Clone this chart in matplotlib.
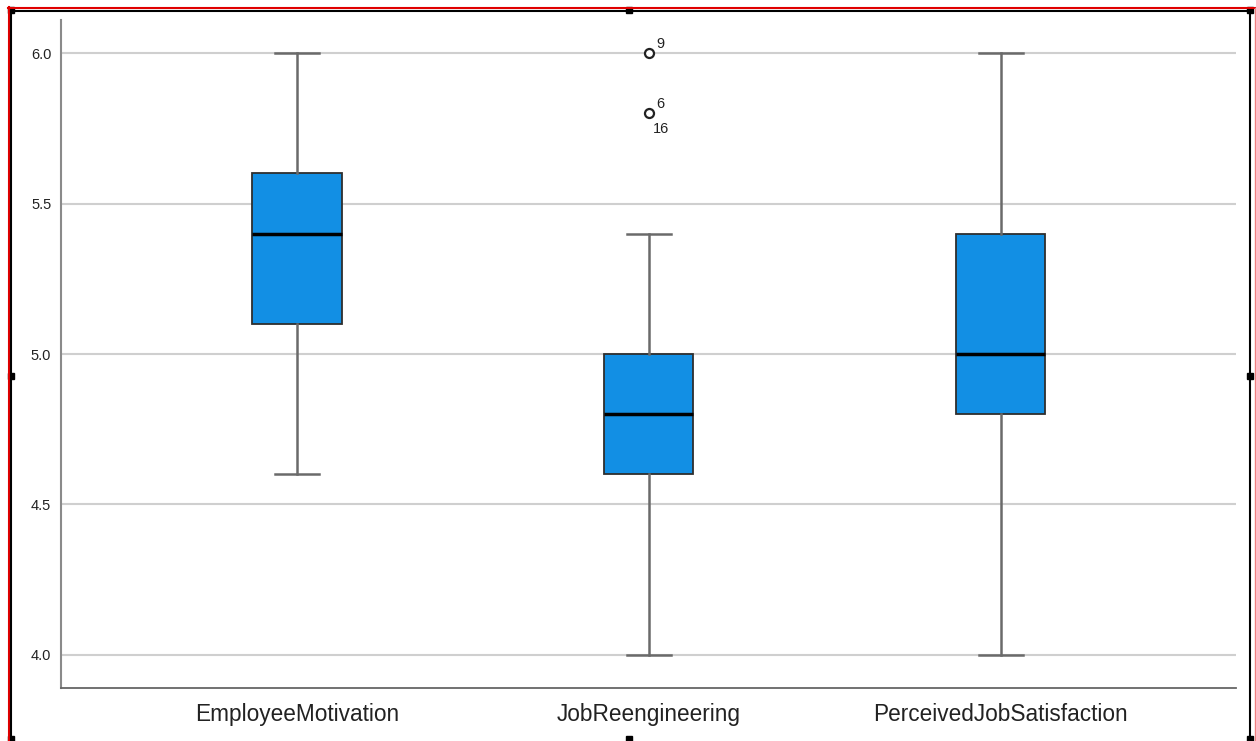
import matplotlib

matplotlib.use("Agg")
import matplotlib.pyplot as plt
from matplotlib.lines import Line2D
from matplotlib.patches import Rectangle

plt.rcParams["font.family"] = ["Liberation Sans", "DejaVu Sans"]

# box statistics
categories = ["EmployeeMotivation", "JobReengineering", "PerceivedJobSatisfaction"]
q1 = [5.1, 4.6, 4.8]
medians = [5.4, 4.8, 5.0]
q3 = [5.6, 5.0, 5.4]
whislo = [4.6, 4.0, 4.0]
whishi = [6.0, 5.4, 6.0]
fliers = [[], [6.0, 5.8], []]
flier_labels = [[], [["9"], ["6", "16"]], []]
yticks = [4.0, 4.5, 5.0, 5.5, 6.0]

W, H = 1256, 741
fig = plt.figure(figsize=(W / 100, H / 100), dpi=100)
ax = fig.add_axes([61 / W, 1 - 688 / H, (1236 - 61) / W, (688 - 20) / H])

stats = []
for i, name in enumerate(categories):
    stats.append(dict(label=name, q1=q1[i], med=medians[i], q3=q3[i],
                      whislo=whislo[i], whishi=whishi[i], fliers=fliers[i]))

pos = [1, 2, 3]
ax.bxp(stats, positions=pos, widths=0.253, capwidths=0.125, patch_artist=True,
       boxprops=dict(facecolor="#128fe4", edgecolor="#2e2e2e", linewidth=1.3),
       medianprops=dict(color="black", linewidth=2.5),
       whiskerprops=dict(color="#6a6a6a", linewidth=1.8),
       capprops=dict(color="#6a6a6a", linewidth=1.8),
       flierprops=dict(marker="o", markerfacecolor="white", markeredgecolor="#222222",
                       markersize=6.5, markeredgewidth=1.6),
       zorder=3)

for i, vals in enumerate(fliers):
    for v, labs in zip(vals, flier_labels[i]):
        ax.annotate(labs[0], (pos[i], v), xytext=(5, 4), textcoords="offset points",
                    fontsize=10.5, color="#222222")
        if len(labs) > 1:
            ax.annotate(labs[1], (pos[i], v), xytext=(3, -14), textcoords="offset points",
                        fontsize=10.5, color="#222222")

ax.set_xlim(0.3295, 3.668)
ax.set_ylim(3.89, 6.11)
ax.set_yticks(yticks)
ax.set_yticklabels([f"{t:.1f}" for t in yticks], fontsize=10.5, color="#222222")
ax.set_xticks(pos)
ax.set_xticklabels(categories, fontsize=16.3, color="#222222")
ax.tick_params(axis="both", length=0)
ax.tick_params(axis="y", pad=7)
ax.tick_params(axis="x", pad=11)
ax.yaxis.grid(True, color="#cfcfcf", linewidth=1.5, zorder=0)
ax.set_axisbelow(True)
for s in ["top", "right"]:
    ax.spines[s].set_visible(False)
ax.spines["left"].set_color("#8a8a8a")
ax.spines["left"].set_linewidth(1.5)
ax.spines["bottom"].set_color("#666666")
ax.spines["bottom"].set_linewidth(1.3)


def fx(px):
    return px / W


def fy(py):
    return 1 - py / H


# selection frame around the chart object
fig.add_artist(Line2D([fx(9), fx(9)], [fy(7), fy(741)], color="#e00000", lw=1.5))
fig.add_artist(Line2D([fx(8), fx(1256)], [fy(7.5), fy(7.5)], color="#e00000", lw=1.5))
fig.add_artist(Line2D([fx(1255), fx(1255)], [fy(8), fy(741)], color="#f08080", lw=1))
fig.add_artist(Line2D([fx(11), fx(1250)], [fy(10.5), fy(10.5)], color="black", lw=1.5))
fig.add_artist(Line2D([fx(11), fx(11)], [fy(10.5), fy(741)], color="black", lw=1.5))
fig.add_artist(Line2D([fx(1250), fx(1250)], [fy(10.5), fy(741)], color="black", lw=1.5))

for hx, hy in [(11, 10), (629, 10), (1250, 10), (11, 376), (1250, 376),
               (11, 739), (629, 739), (1250, 739)]:
    fig.add_artist(Rectangle((fx(hx - 3), fy(hy + 3)), 6 / W, 6 / H,
                             color="black", transform=fig.transFigure))

fig.savefig("out.png", dpi=100)
